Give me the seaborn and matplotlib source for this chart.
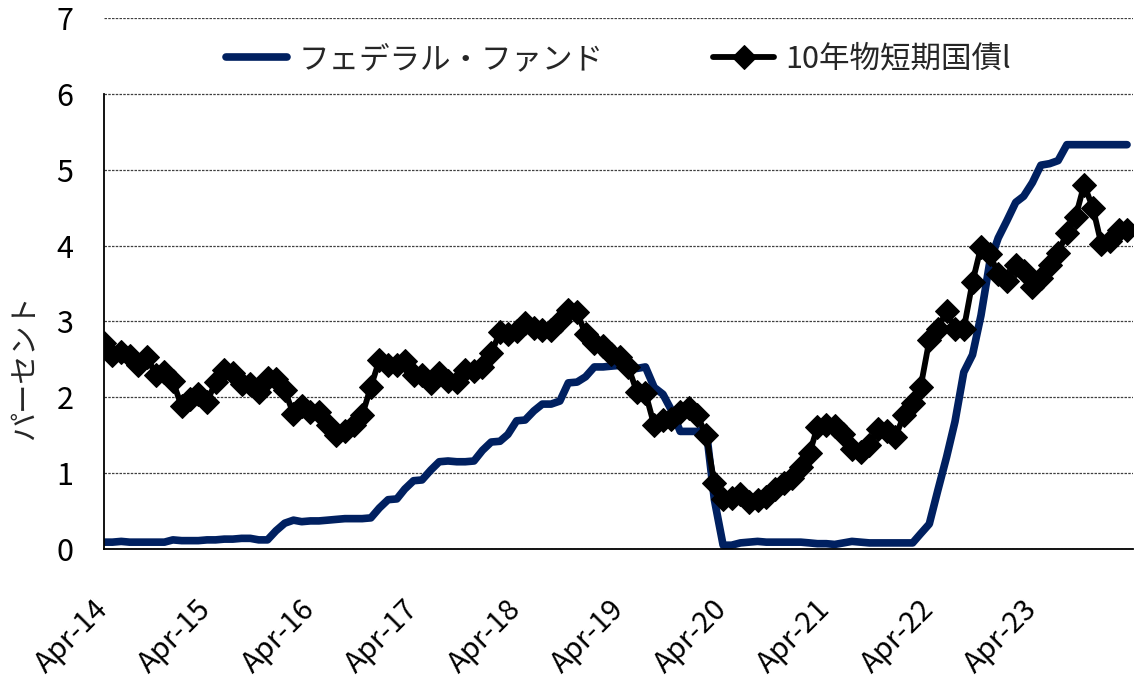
import pandas as pd
import matplotlib.pyplot as plt
import matplotlib.dates as mdates
import seaborn as sns

sns.set_style("white")
# 日本語フォント（CJKが無い文字はDejaVuへ）
plt.rcParams['font.family'] = ['Noto Sans CJK JP', 'DejaVu Sans']
plt.rcParams['axes.unicode_minus'] = False

# 月次データ 2014年4月〜2024年3月
months = pd.date_range("2014-04-01", periods=120, freq="MS")

fed_funds = [
    0.09, 0.09, 0.10, 0.09, 0.09, 0.09, 0.09, 0.09, 0.12, 0.11, 0.11, 0.11,
    0.12, 0.12, 0.13, 0.13, 0.14, 0.14, 0.12, 0.12, 0.24, 0.34, 0.38, 0.36,
    0.37, 0.37, 0.38, 0.39, 0.40, 0.40, 0.40, 0.41, 0.54, 0.65, 0.66, 0.79,
    0.90, 0.91, 1.04, 1.15, 1.16, 1.15, 1.15, 1.16, 1.30, 1.41, 1.42, 1.51,
    1.69, 1.70, 1.82, 1.91, 1.91, 1.95, 2.19, 2.20, 2.27, 2.40, 2.40, 2.41,
    2.42, 2.39, 2.38, 2.40, 2.13, 2.04, 1.83, 1.55, 1.55, 1.55, 1.58, 0.65,
    0.05, 0.05, 0.08, 0.09, 0.10, 0.09, 0.09, 0.09, 0.09, 0.09, 0.08, 0.07,
    0.07, 0.06, 0.08, 0.10, 0.09, 0.08, 0.08, 0.08, 0.08, 0.08, 0.08, 0.20,
    0.33, 0.77, 1.21, 1.68, 2.33, 2.56, 3.08, 3.78, 4.10, 4.33, 4.57, 4.65,
    4.83, 5.06, 5.08, 5.12, 5.33, 5.33, 5.33, 5.33, 5.33, 5.33, 5.33, 5.33,
]

treasury_10y = [
    2.71, 2.56, 2.60, 2.54, 2.42, 2.53, 2.30, 2.33, 2.21, 1.88, 1.98, 2.04,
    1.94, 2.20, 2.36, 2.32, 2.17, 2.17, 2.07, 2.26, 2.24, 2.09, 1.78, 1.89,
    1.81, 1.81, 1.64, 1.50, 1.56, 1.63, 1.76, 2.14, 2.49, 2.43, 2.42, 2.48,
    2.30, 2.30, 2.19, 2.32, 2.21, 2.20, 2.36, 2.35, 2.40, 2.58, 2.86, 2.84,
    2.87, 2.98, 2.91, 2.89, 2.89, 3.00, 3.15, 3.12, 2.83, 2.71, 2.68, 2.57,
    2.53, 2.40, 2.07, 2.06, 1.63, 1.70, 1.71, 1.81, 1.86, 1.76, 1.50, 0.87,
    0.66, 0.67, 0.73, 0.62, 0.65, 0.68, 0.79, 0.87, 0.93, 1.08, 1.26, 1.61,
    1.64, 1.62, 1.52, 1.32, 1.28, 1.37, 1.58, 1.56, 1.47, 1.76, 1.93, 2.13,
    2.75, 2.90, 3.14, 2.90, 2.90, 3.52, 3.98, 3.89, 3.62, 3.53, 3.75, 3.66,
    3.46, 3.57, 3.75, 3.90, 4.17, 4.38, 4.80, 4.50, 4.02, 4.06, 4.21, 4.21,
]

label_fed = "フェデラル・ファンド"
label_tsy = "10年物短期国債l"

fig, ax = plt.subplots(figsize=(11.35, 6.77), dpi=100)
fig.subplots_adjust(left=0.0916, right=0.9982, top=0.9734, bottom=0.1891)

sns.lineplot(x=months, y=fed_funds, ax=ax, color="#002060", linewidth=5.5,
             solid_capstyle="round", label=label_fed)
sns.lineplot(x=months, y=treasury_10y, ax=ax, color="black", linewidth=4.2,
             marker="D", markersize=12, markeredgecolor="black",
             solid_capstyle="round", label=label_tsy)

ax.set_ylim(0, 7)
ax.set_yticks(range(0, 8))
ax.set_xlim(pd.Timestamp("2014-04-01"), pd.Timestamp("2024-03-22"))
ax.xaxis.set_major_locator(mdates.MonthLocator(bymonth=4))
ax.xaxis.set_major_formatter(mdates.DateFormatter("%b-%y"))

ax.yaxis.grid(True, linestyle=(0, (2, 1)), color="#404040", linewidth=0.9)
ax.xaxis.grid(False)
for s in ["top", "right"]:
    ax.spines[s].set_visible(False)
for s in ["left", "bottom"]:
    ax.spines[s].set_color("black")
    ax.spines[s].set_linewidth(1.3)
ax.spines["left"].set_bounds(0, 6)

ax.tick_params(axis="y", direction="out", length=8, width=1.2, pad=14,
               labelsize=22, colors="black")
ax.tick_params(axis="x", direction="out", length=8, width=1.2, pad=32,
               labelsize=21, colors="black")
plt.setp(ax.get_xticklabels(), rotation=45, ha="right", va="center",
         rotation_mode="anchor")

ax.set_ylabel("パーセント", fontsize=21)
ax.yaxis.set_label_coords(-0.062, 0.343)
ax.set_xlabel("")

ax.legend(loc="center", bbox_to_anchor=(0.5, 0.922), ncol=2, frameon=False,
          fontsize=22, handlelength=2.0, handletextpad=0.35,
          columnspacing=3.6, numpoints=1)

plt.savefig("out.png", dpi=100)
plt.close()
